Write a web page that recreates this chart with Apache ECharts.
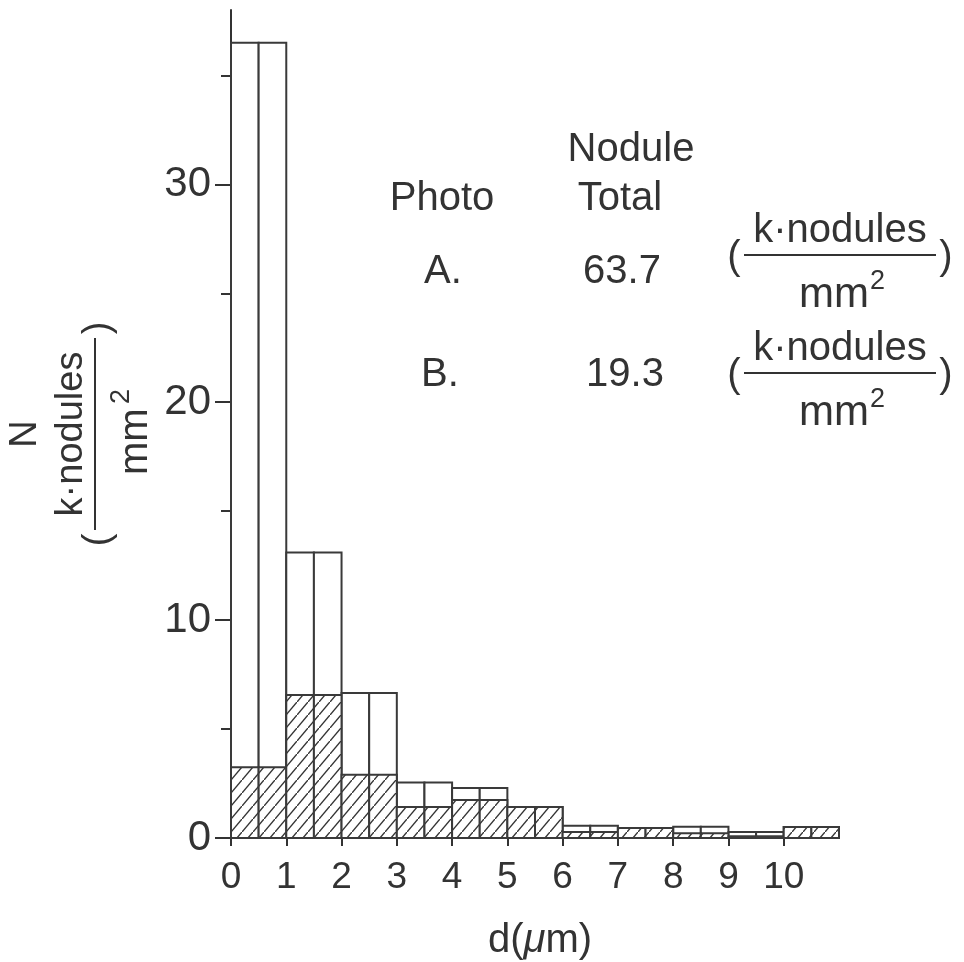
<!DOCTYPE html>
<html>
<head>
<meta charset="utf-8">
<script src="https://cdn.jsdelivr.net/npm/echarts@6/dist/echarts.min.js"></script>
<style>
  html, body { margin: 0; padding: 0; background: #fff; }
  #chart { width: 964px; height: 962px; }
</style>
</head>
<body>
<div id="chart"></div>
<script>
// bins of d (um), each bin drawn as two equal halves
const binStart = [0, 1, 2, 3, 4, 5, 6, 7, 8, 9, 10]
const binWidth = 1
// Photo A: open bars, Photo B: hatched bars (k nodules / mm^2)
const photoA = [36.5, 13.1, 6.65, 2.55, 2.29, 1.42, 0.56, 0.46, 0.52, 0.27, 0.5]
const photoB = [3.25, 6.56, 2.9, 1.42, 1.74, 1.42, 0.28, 0.46, 0.22, 0.08, 0.5]
const xTicks = [0, 1, 2, 3, 4, 5, 6, 7, 8, 9, 10]
const yTicks = [0, 10, 20, 30]
const yMinorTicks = [5, 15, 25, 35]
const photoNames = ['A.', 'B.']
const noduleTotals = ['63.7', '19.3']

const ink = '#333'
const font = "'Liberation Sans', Arial, sans-serif"

function makeHatch() {
  const w = 11
  const h = 13
  const c = document.createElement('canvas')
  c.width = w
  c.height = h
  const ctx = c.getContext('2d')
  ctx.fillStyle = '#fff'
  ctx.fillRect(0, 0, w, h)
  ctx.strokeStyle = '#333'
  ctx.lineWidth = 1.4
  ctx.beginPath()
  ctx.moveTo(-1, h + h / w)
  ctx.lineTo(w + 1, -h / w)
  ctx.stroke()
  return c
}
const hatch = { image: makeHatch(), repeat: 'repeat' }

function halfBars(fill) {
  return function(params, api) {
    const x0 = api.value(0)
    const v = api.value(1)
    const top = api.coord([x0, v])
    const mid = api.coord([x0 + binWidth / 2, 0])
    const end = api.coord([x0 + binWidth, 0])
    const st = { fill: fill, stroke: '#3a3a3a', lineWidth: 2 }
    return {
      type: 'group',
      children: [
        { type: 'rect', shape: { x: top[0], y: top[1], width: mid[0] - top[0], height: mid[1] - top[1] }, style: st },
        { type: 'rect', shape: { x: mid[0], y: top[1], width: end[0] - mid[0], height: mid[1] - top[1] }, style: st }
      ]
    }
  }
}

// text placed by its baseline
function txt(s, x, base, size, align, extra) {
  return {
    type: 'text',
    x: x,
    y: base - 0.31 * size,
    style: Object.assign({
      text: s,
      fontSize: size,
      fontFamily: font,
      fill: ink,
      align: align || 'center',
      verticalAlign: 'middle'
    }, extra || {})
  }
}

// ( k·nodules / mm^2 )
function unitFrac(cx, cy, rot, size) {
  return {
    type: 'group',
    x: cx,
    y: cy,
    rotation: rot,
    children: [
      txt('k·nodules', 0, -12, size),
      { type: 'line', shape: { x1: -96, y1: 0, x2: 96, y2: 0 }, style: { stroke: ink, lineWidth: 2 } },
      txt('mm', -41, 53, size + 2, 'left'),
      txt('2', 30, 35, 27, 'left'),
      txt('(', -106, 15, size),
      txt(')', 106, 15, size)
    ]
  }
}

const graphics = [
  txt('Nodule', 631, 162, 40),
  txt('Photo', 442, 211, 40),
  txt('Total', 620, 211, 40),
  txt(photoNames[0], 443, 284, 40),
  txt(noduleTotals[0], 622, 284, 40),
  unitFrac(840, 255, 0, 40),
  txt(photoNames[1], 440, 387, 40),
  txt(noduleTotals[1], 625, 387, 40),
  unitFrac(840, 373, 0, 40),
  {
    type: 'group',
    x: 95,
    y: 434,
    rotation: Math.PI / 2,
    children: [txt('N', 0, -58, 38)].concat(unitFrac(0, 0, 0, 38).children)
  },
  {
    type: 'text',
    x: 540,
    y: 953 - 0.31 * 40,
    style: {
      text: '{n|d(}{i|μ}{n|m)}',
      align: 'center',
      verticalAlign: 'middle',
      rich: {
        n: { fontSize: 40, fontFamily: font, fill: ink },
        i: { fontSize: 40, fontFamily: font, fill: ink, fontStyle: 'italic' }
      }
    }
  }
]

const chart = echarts.init(document.getElementById('chart'))
chart.setOption({
  animation: false,
  backgroundColor: '#fff',
  grid: { left: 231, top: 10, width: 608, height: 828, containLabel: false, outerBoundsMode: 'none' },
  xAxis: {
    type: 'value',
    min: 0,
    max: 11,
    interval: 1,
    splitLine: { show: false },
    axisLine: { show: true, lineStyle: { color: ink, width: 2 } },
    axisTick: { show: true, customValues: xTicks, length: 8, lineStyle: { color: ink, width: 2 } },
    axisLabel: { customValues: xTicks, margin: 21, fontSize: 37, fontFamily: font, color: ink }
  },
  yAxis: [
    {
      type: 'value',
      min: 0,
      max: 38,
      interval: 10,
      position: 'left',
      splitLine: { show: false },
      axisLine: { show: true, lineStyle: { color: ink, width: 2 } },
      axisTick: { show: true, customValues: yTicks, length: 16, lineStyle: { color: ink, width: 2 } },
      axisLabel: { customValues: yTicks, margin: 20, fontSize: 42, fontFamily: "'Liberation Sans Narrow', " + font, color: ink }
    },
    {
      type: 'value',
      min: 0,
      max: 38,
      position: 'left',
      offset: 0,
      splitLine: { show: false },
      axisLine: { show: false },
      axisLabel: { show: false },
      axisTick: { show: true, customValues: yMinorTicks, length: 10, lineStyle: { color: ink, width: 2 } }
    }
  ],
  series: [
    {
      name: 'A',
      type: 'custom',
      renderItem: halfBars('#fff'),
      encode: { x: 0, y: 1 },
      data: binStart.map((b, i) => [b, photoA[i]]),
      z: 2
    },
    {
      name: 'B',
      type: 'custom',
      renderItem: halfBars(hatch),
      encode: { x: 0, y: 1 },
      data: binStart.map((b, i) => [b, photoB[i]]),
      z: 3
    }
  ],
  graphic: graphics
})
</script>
</body>
</html>
